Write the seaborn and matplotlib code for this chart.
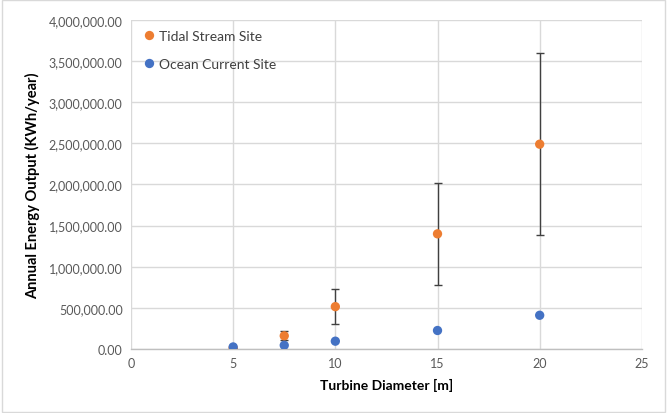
import matplotlib
matplotlib.use("Agg")
import matplotlib.pyplot as plt
import seaborn as sns
import pandas as pd
import numpy as np
from matplotlib.ticker import FuncFormatter, MultipleLocator

diameters = [5, 7.5, 10, 15, 20]
tidal = [12000, 160000, 515000, 1400000, 2490000]
tidal_low = [8000, 110000, 305000, 775000, 1385000]
tidal_high = [16000, 215000, 725000, 2015000, 3600000]
ocean = [25000, 45000, 95000, 225000, 410000]
series_names = ["Tidal Stream Site", "Ocean Current Site"]
colors = ["#ED7D31", "#4472C4"]

df = pd.DataFrame({
    "Turbine Diameter [m]": diameters * 2,
    "Output": tidal + ocean,
    "Site": [series_names[0]] * len(diameters) + [series_names[1]] * len(diameters),
})

sns.set_style("white")
plt.rcParams['font.family'] = ['Lato', 'DejaVu Sans']

fig = plt.figure(figsize=(6.7, 4.14), dpi=100)
ax = fig.add_axes([0.1955, 0.1546, 0.7625, 0.7947])

yerr = [np.array(tidal) - np.array(tidal_low), np.array(tidal_high) - np.array(tidal)]
ax.errorbar(diameters, tidal, yerr=yerr, fmt="none", ecolor="#404040",
            elinewidth=1.0, capsize=3, capthick=1.0, zorder=2)

sns.scatterplot(data=df, x="Turbine Diameter [m]", y="Output", hue="Site",
                palette=colors, s=45, edgecolor="none", ax=ax, zorder=3)

ax.set_xlim(0, 25)
ax.set_ylim(0, 4000000)
ax.xaxis.set_major_locator(MultipleLocator(5))
ax.yaxis.set_major_locator(MultipleLocator(500000))
ax.yaxis.set_major_formatter(FuncFormatter(lambda v, p: f"{v:,.2f}"))
ax.grid(True, color="#D9D9D9", linewidth=1.0)
ax.set_axisbelow(True)
for s in ["top", "right", "left"]:
    ax.spines[s].set_visible(False)
ax.spines["bottom"].set_color("#BFBFBF")
ax.spines["bottom"].set_linewidth(1.0)
ax.tick_params(axis="both", length=0, labelsize=9, colors="#595959", pad=6)
ax.set_xlabel("Turbine Diameter [m]", fontsize=10, fontweight="bold", color="#000000", labelpad=6)
ax.set_ylabel("Annual Energy Output (KWh/year)", fontsize=10.5, fontweight="bold", color="#000000", labelpad=6)

leg = ax.legend(loc="upper left", frameon=False, fontsize=10, handlelength=0.8,
                handletextpad=0.3, borderaxespad=0.3, labelspacing=1.15,
                bbox_to_anchor=(0.005, 1.0))
for t in leg.get_texts():
    t.set_color("#404040")

fig.patches.append(plt.Rectangle((0.003, 0.003), 0.99, 0.994, transform=fig.transFigure,
                                 fill=False, edgecolor="#D9D9D9", linewidth=1.0))
fig.savefig("out.png", dpi=100)
